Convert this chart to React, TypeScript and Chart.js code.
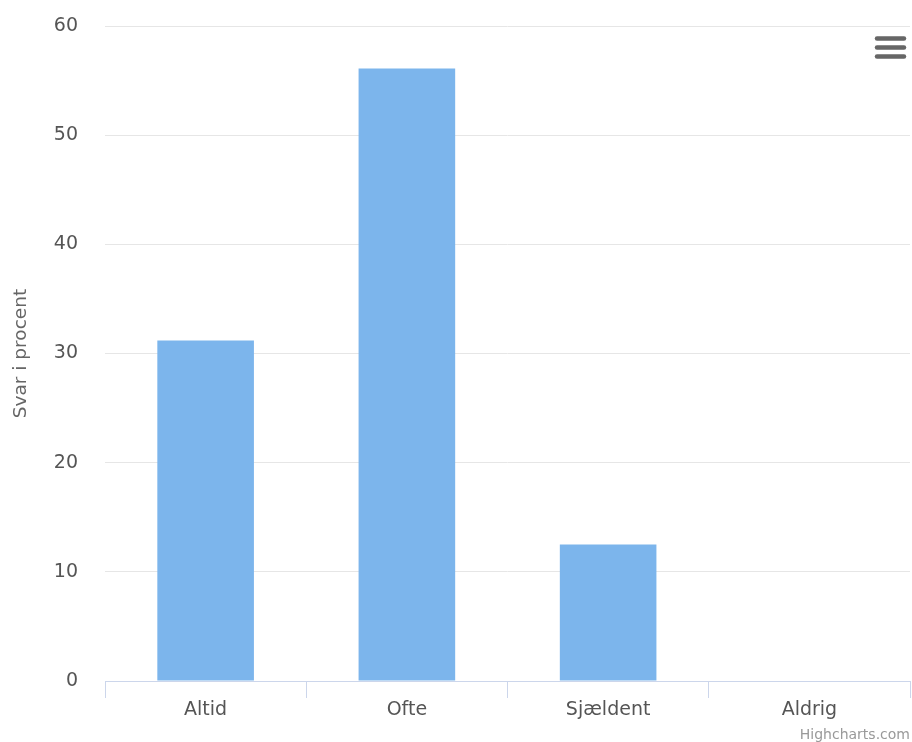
import React, { useEffect, useRef } from "react";
import { Chart, registerables } from "chart.js";

Chart.register(...registerables);

const categories = ["Altid", "Ofte", "Sjældent", "Aldrig"];
const values = [31.2, 56.1, 12.5, 0];
const yTicks = [0, 10, 20, 30, 40, 50, 60];
const yTitle = "Svar i procent";
const credits = "Highcharts.com";

const FONT = "'DejaVu Sans', sans-serif";

const extrasPlugin = {
  id: "extras",
  afterDraw(chart: any) {
    const ctx = chart.ctx;
    ctx.save();
    // menu icon
    ctx.strokeStyle = "#666666";
    ctx.lineWidth = 4.5;
    ctx.lineCap = "round";
    [38.5, 47.5, 56.5].forEach((y) => {
      ctx.beginPath();
      ctx.moveTo(877, y);
      ctx.lineTo(904, y);
      ctx.stroke();
    });
    // credits
    ctx.fillStyle = "#999999";
    ctx.font = `14px ${FONT}`;
    ctx.textAlign = "right";
    ctx.textBaseline = "alphabetic";
    ctx.fillText(credits, 910, 739);
    ctx.restore();
  },
};

export default function App() {
  const ref = useRef<HTMLCanvasElement>(null);
  useEffect(() => {
    const chart = new Chart(ref.current!, {
      type: "bar",
      data: {
        labels: categories,
        datasets: [
          {
            data: values,
            backgroundColor: "#7cb5ec",
            borderWidth: 0,
            categoryPercentage: 1,
            barPercentage: 0.48,
          },
        ],
      },
      plugins: [extrasPlugin],
      options: {
        animation: false,
        responsive: false,
        maintainAspectRatio: false,
        layout: { padding: { top: 26, right: 2, left: 0, bottom: 0 } },
        plugins: { legend: { display: false }, tooltip: { enabled: false } },
        scales: {
          x: {
            offset: true,
            grid: {
              offset: true,
              drawOnChartArea: false,
              drawTicks: true,
              tickLength: 17,
              color: "#ccd6eb",
            },
            border: { color: "#ccd6eb", width: 1 },
            ticks: { color: "#555555", font: { size: 19, family: FONT }, padding: 1 },
            afterFit: (s: any) => {
              s.height = 61;
              s.paddingLeft = 0;
              s.paddingRight = 0;
            },
          },
          y: {
            min: 0,
            max: 60,
            afterBuildTicks: (s: any) => {
              s.ticks = yTicks.map((v) => ({ value: v }));
            },
            grid: { color: "#e6e6e6", drawTicks: false },
            border: { display: false },
            ticks: { color: "#555555", font: { size: 19, family: FONT }, padding: 27 },
            title: {
              display: true,
              text: yTitle,
              color: "#666666",
              font: { size: 18.5, family: FONT },
              padding: { top: 10, bottom: 0 },
            },
            afterFit: (s: any) => {
              s.width = 105;
              s.paddingTop = 0;
              s.paddingBottom = 0;
            },
          },
        },
      },
    });
    return () => chart.destroy();
  }, []);
  return (
    <div style={{ position: "fixed", left: 0, top: 0, width: 912, height: 742, background: "#fff" }}>
      <canvas ref={ref} width={912} height={742} style={{ display: "block" }} />
    </div>
  );
}
